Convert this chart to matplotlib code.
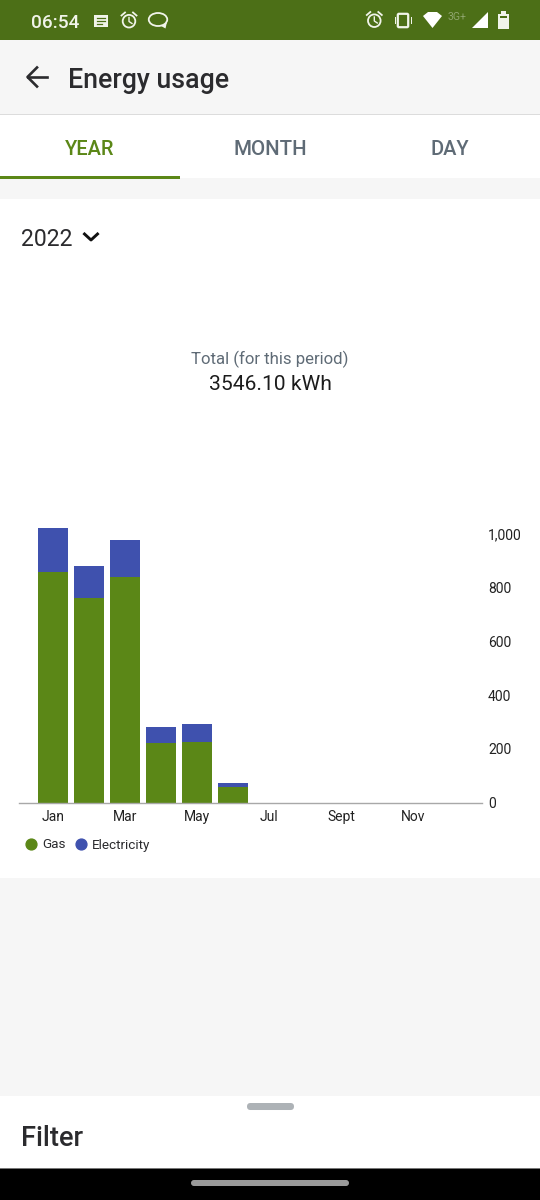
import matplotlib
matplotlib.use("Agg")
import matplotlib.pyplot as plt
from matplotlib.lines import Line2D
from matplotlib.patches import Rectangle, Circle, Ellipse, Polygon, FancyBboxPatch
from matplotlib.ticker import FixedLocator, FixedFormatter

plt.rcParams["font.family"] = ["Roboto", "DejaVu Sans"]

months = ["Jan", "Feb", "Mar", "Apr", "May", "Jun", "Jul", "Aug", "Sept", "Oct", "Nov", "Dec"]
gas = [858, 762, 840, 220, 227, 56, 0, 0, 0, 0, 0, 0]
electricity = [164, 120, 136, 63, 65, 18, 0, 0, 0, 0, 0, 0]
y_ticks = [0, 200, 400, 600, 800, 1000]
y_labels = ["0", "200", "400", "600", "800", "1,000"]
x_labels = ["Jan", "Mar", "May", "Jul", "Sept", "Nov"]

W, H = 540, 1200
GREEN = "#5b8717"
BLUE = "#3f51ae"
DARK = "#2b2b2e"
GREY = "#5f6b76"
BAR = "#4c6f17"
ICON = "#f1f4ea"

fig = plt.figure(figsize=(W / 100, H / 100), dpi=100, facecolor="#f6f6f6")

# page furniture, in pixel coordinates
ui = fig.add_axes([0, 0, 1, 1], zorder=0)
ui.set_xlim(0, W)
ui.set_ylim(H, 0)
ui.axis("off")


def rect(x, y, w, h, color, z=1):
    ui.add_patch(Rectangle((x, y), w, h, fc=color, ec="none", zorder=z))


def pill(x, y, w, h, color):
    ui.add_patch(FancyBboxPatch((x + h / 2, y + h / 2), w - h, 0.01, boxstyle=f"round,pad={h / 2}",
                                fc=color, ec="none", zorder=3))


def label(x, y, s, px, color=DARK, ha="left", weight="normal"):
    ui.text(x, y, s, fontsize=px * 0.72, color=color, ha=ha, va="center", weight=weight, zorder=5)


def alarm(cx, cy):
    ui.add_patch(Circle((cx, cy + 0.7), 6.3, fc="none", ec=ICON, lw=1.3, zorder=3))
    ui.plot([cx, cx, cx + 3], [cy - 3, cy + 1, cy + 3], color=ICON, lw=1, zorder=3)
    ui.plot([cx - 7.5, cx - 4], [cy - 5, cy - 8], color=ICON, lw=1.3, zorder=3)
    ui.plot([cx + 7.5, cx + 4], [cy - 5, cy - 8], color=ICON, lw=1.3, zorder=3)


rect(0, 0, W, 40, BAR)
rect(0, 115, W, 63, "#ffffff")
rect(0, 113.8, W, 1.4, "#dcdcdc")
rect(0, 175.5, 180, 3, GREEN, 2)
rect(0, 199, W, 679, "#ffffff")
rect(0, 1096, W, 73, "#ffffff")
rect(0, 1169, W, 31, "#000000")
rect(0, 1168, W, 1, "#777777", 2)

# status bar
label(31.5, 22.5, "06:54", 19, ICON, weight="medium")
rect(93.5, 14.5, 14.5, 12.5, ICON, 3)
for yy, x_end in ((18, 105), (21, 105), (24, 102)):
    ui.plot([97, x_end], [yy, yy], color=BAR, lw=0.9, zorder=4)
alarm(129, 20.5)
alarm(374.3, 20)
ui.add_patch(Ellipse((158, 19.5), 18.5, 13, fc="none", ec=ICON, lw=1.3, zorder=3))
ui.add_patch(Polygon([[161, 26], [167, 22], [165.5, 28.5]], fc=ICON, ec="none", zorder=3))
ui.add_patch(FancyBboxPatch((399, 15), 8, 11, boxstyle="round,pad=1.2", fc="none", ec=ICON, lw=1.6, zorder=3))
rect(394.5, 17, 1.6, 7, ICON, 3)
rect(410.5, 17, 1.6, 7, ICON, 3)
ui.add_patch(Polygon([[423, 16], [428, 12], [437, 12], [442, 16], [432.5, 28]], fc="#ffffff", ec="none", zorder=3))
label(448, 16.5, "3G+", 10.5, "#8fa56d")
ui.add_patch(Polygon([[472, 28], [488, 12], [488, 28]], fc="#ffffff", ec="none", zorder=3))
rect(498, 13.5, 11, 15.5, ICON, 3)
rect(501, 11, 5, 3, ICON, 3)
rect(500, 15.5, 7, 2.5, BAR, 4)

# header and tabs
ui.plot([28, 47], [77, 77], color=DARK, lw=1.9, zorder=4)
ui.plot([37, 27.5, 37], [67.5, 77, 86.5], color=DARK, lw=1.9, zorder=4)
label(68, 80, "Energy usage", 26.7, weight="medium")
label(90, 149.5, "YEAR", 20, GREEN, ha="center", weight="medium")
label(270, 149.5, "MONTH", 20.5, GREY, ha="center", weight="medium")
label(450, 149.5, "DAY", 20, GREY, ha="center", weight="medium")

# period picker and total
label(21, 239, "2022", 23)
ui.plot([84.5, 91, 97.5], [234, 240, 234], color="#111111", lw=2.1, zorder=4)
label(270, 359, "Total (for this period)", 16.8, GREY, ha="center")
label(270, 385, "3546.10 kWh", 21, "#1c1c1c", ha="center")
label(21, 1139, "Filter", 27.3, weight="medium")
pill(247, 1103, 47, 7, "#adb2b6")
pill(191, 1180, 158, 6, "#9a9a9a")

# chart
ax = fig.add_axes([19.5 / W, 1 - 802.5 / H, (481.7 - 19.5) / W, 276.5 / H], zorder=2)
ax.patch.set_alpha(0)
pos = list(range(len(months)))
ax.bar(pos, gas, width=0.84, color=GREEN, label="Gas")
ax.bar(pos, electricity, width=0.84, bottom=gas, color=BLUE, label="Electricity")
ax.set_xlim(-0.93, 11.91)
ax.set_ylim(0, 1030)
for side in ("top", "left", "right"):
    ax.spines[side].set_visible(False)
ax.spines["bottom"].set_color("#a8a8a8")
ax.spines["bottom"].set_linewidth(1)
ax.yaxis.tick_right()
ax.yaxis.set_major_locator(FixedLocator(y_ticks))
ax.yaxis.set_major_formatter(FixedFormatter(y_labels))
ax.xaxis.set_major_locator(FixedLocator([months.index(m) for m in x_labels]))
ax.xaxis.set_major_formatter(FixedFormatter(x_labels))
ax.tick_params(axis="y", length=0, pad=4.5, labelsize=10, labelcolor="#222222")
ax.tick_params(axis="x", length=0, pad=5.2, labelsize=10, labelcolor="#222222")

handles = [Line2D([], [], ls="none", marker="o", ms=7.8, color=GREEN),
           Line2D([], [], ls="none", marker="o", ms=7.8, color=BLUE)]
leg = ax.legend(handles, ["Gas", "Electricity"], ncol=2, frameon=False, fontsize=9.7,
                loc="center left", bbox_to_anchor=(24.5 / W, 1 - 845 / H), bbox_transform=fig.transFigure,
                borderpad=0, borderaxespad=0, handlelength=1, handletextpad=0.3, columnspacing=0.65,
                labelcolor="#2b2b2e")

fig.savefig("out.png", dpi=100, facecolor=fig.get_facecolor())
